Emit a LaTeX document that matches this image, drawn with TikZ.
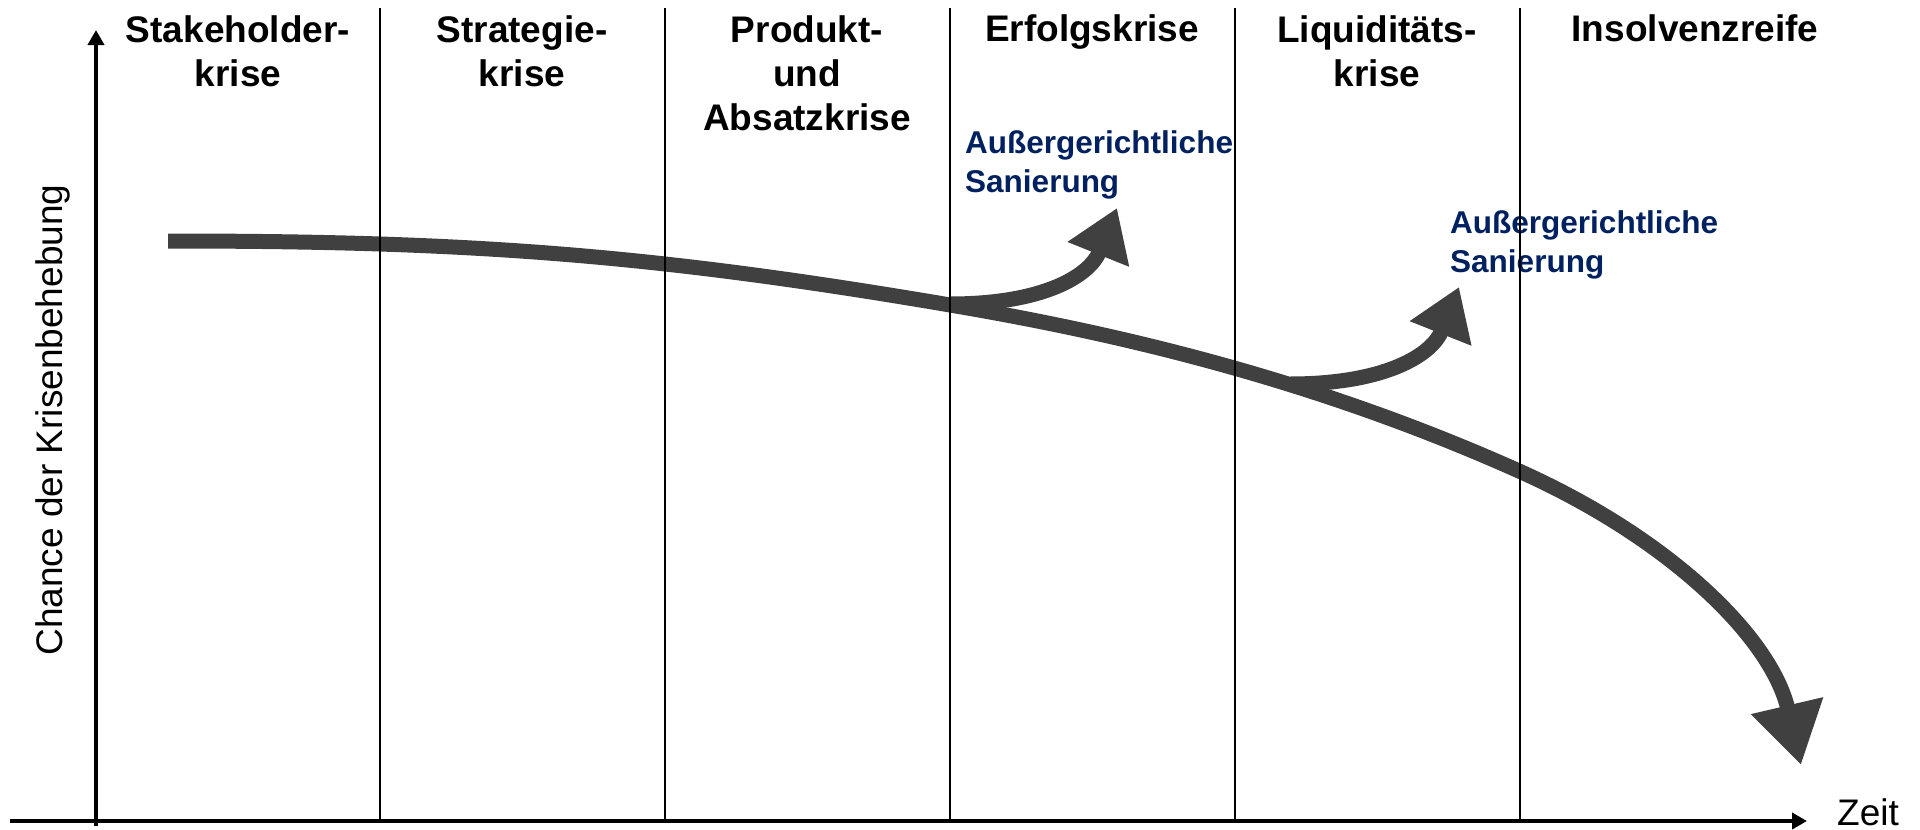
\documentclass[tikz,border=0pt]{standalone}
\usepackage{fontspec}
\setmainfont{Liberation Sans}
\usetikzlibrary{arrows.meta}
\definecolor{curvegray}{RGB}{64,64,64}
\definecolor{navy}{RGB}{0,32,96}
\begin{document}
\begin{tikzpicture}[x=1pt,y=-1pt,
  header/.style={font=\fontsize{37}{44}\selectfont\bfseries, align=center, anchor=base, inner sep=0pt},
  bluelabel/.style={font=\fontsize{31.5}{39}\selectfont\bfseries, text=navy, align=left, anchor=base west, inner sep=0pt},
  axislabel/.style={font=\fontsize{37}{44}\selectfont, inner sep=0pt},
  axisline/.style={line width=4pt, -{Triangle[length=15pt,width=16pt]}},
  sepline/.style={line width=1.5pt},
  bigarrow/.style={line width=15pt, draw=curvegray, line cap=butt}]

\useasboundingbox (0,0) rectangle (1920,830);

% main curve
\coordinate (m1) at (168,241);
\coordinate (m4) at (950,305);
\coordinate (m6) at (1519,471);
\coordinate (mtip) at (1801,765);

\draw[bigarrow, -{Triangle[length=61pt,width=70pt]}]
  (m1) .. controls (468,241) and (650,254) .. (m4)
       .. controls (1140,337) and (1329,386) .. (m6)
       .. controls (1669,538) and (1771,637) .. (mtip);

% branches
\coordinate (b1s) at (950,304);
\coordinate (b1t) at (1117,208);
\coordinate (b2s) at (1290,384);
\coordinate (b2t) at (1459,287);
\draw[bigarrow, -{Triangle[length=50pt,width=63pt]}] (b1s) .. controls (1045,304) and (1090,275) .. (b1t);
\draw[bigarrow, -{Triangle[length=50pt,width=63pt]}] (b2s) .. controls (1385,384) and (1432,355) .. (b2t);

% headers (anchor = baseline of last line)
\node[header] (h1) at (238,86) {Stakeholder-\\krise};
\node[header] (h2) at (522,86) {Strategie-\\krise};
\node[header] (h3) at (807,130) {Produkt-\\und\\Absatzkrise};
\node[header] (h4) at (1092,41.5) {Erfolgskrise};
\node[header] (h5) at (1377,86) {Liquiditäts-\\krise};
\node[header] (h6) at (1695,41.5) {Insolvenzreife};

% blue labels
\node[bluelabel] (l1) at (965,192) {Außergerichtliche\\Sanierung};
\node[bluelabel] (l2) at (1450,272) {Außergerichtliche\\Sanierung};

% axis labels
\node[axislabel, rotate=90, anchor=base] (ylab) at (62,420) {Chance der Krisenbehebung};
\node[axislabel, anchor=base west] (zeit) at (1837,825) {Zeit};

% separators
\foreach \sx/\nm in {380/s1,665/s2,950/s3,1235/s4,1520/s5}{
  \coordinate (\nm top) at (\sx,8);
  \coordinate (\nm bot) at (\sx,821);
  \draw[sepline] (\nm top) -- (\nm bot);
}

% axes
\coordinate (ybot) at (96,826);
\coordinate (ytop) at (96,30);
\coordinate (xleft) at (10,821);
\coordinate (xright) at (1807,821);
\draw[axisline] (ybot) -- (ytop);
\draw[axisline] (xleft) -- (xright);
\end{tikzpicture}
\end{document}
